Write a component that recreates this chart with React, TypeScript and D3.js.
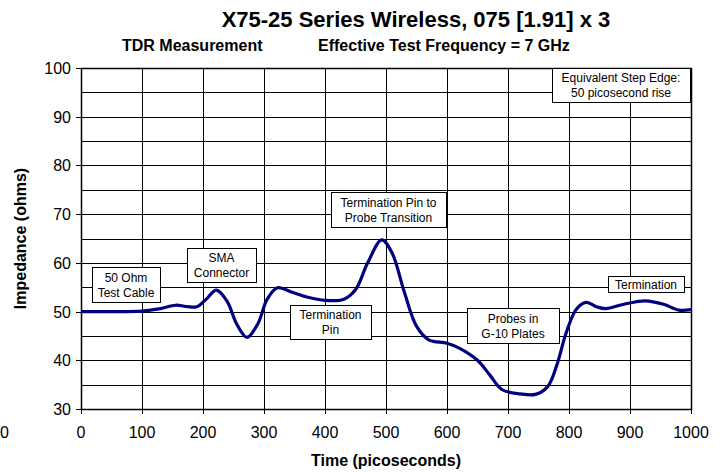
import React from "react";
import * as d3 from "d3";

const title = "X75-25 Series Wireless, 075 [1.91] x 3";
const subtitleLeft = "TDR Measurement";
const subtitleRight = "Effective Test Frequency = 7 GHz";
const xLabel = "Time (picoseconds)";
const yLabel = "Impedance (ohms)";

const xTicks = [0, 100, 200, 300, 400, 500, 600, 700, 800, 900, 1000];
const yTicks = [30, 40, 50, 60, 70, 80, 90, 100];
const yGrid = [35, 40, 45, 50, 55, 60, 65, 70, 75, 80, 85, 90, 95];

const timePs = [0, 50, 100, 130, 155, 175, 190, 205, 222, 240, 255, 272, 290, 305, 322, 345, 370, 400, 430, 450, 470, 493, 510, 530, 550, 570, 600, 620, 650, 670, 690, 720, 745, 765, 780, 795, 812, 828, 845, 860, 890, 925, 955, 980, 1000];
const impedance = [50, 50, 50.1, 50.6, 51.3, 51.0, 51.0, 52.5, 54.4, 52, 47.5, 44.7, 47.5, 52.5, 54.9, 54.0, 53.0, 52.3, 52.5, 54.5, 60, 64.7, 62, 54, 47, 44.2, 43.5, 42.5, 40, 37, 34, 33.1, 33, 34.6, 39, 45.5, 50.5, 51.9, 51.0, 50.6, 51.5, 52.2, 51.5, 50.3, 50.4];

const annotations = [
  { lines: ["50 Ohm", "Test Cable"], x0: 92, y0: 267, x1: 160, y1: 302 },
  { lines: ["SMA", "Connector"], x0: 187, y0: 248, x1: 256, y1: 282 },
  { lines: ["Termination", "Pin"], x0: 290, y0: 305, x1: 371, y1: 339 },
  { lines: ["Termination Pin to", "Probe Transition"], x0: 331, y0: 192, x1: 446, y1: 227 },
  { lines: ["Probes in", "G-10 Plates"], x0: 467, y0: 308, x1: 559, y1: 343 },
  { lines: ["Termination"], x0: 608, y0: 276, x1: 684, y1: 292 },
  { lines: ["Equivalent Step Edge:", "50 picosecond rise"], x0: 552, y0: 68, x1: 690, y1: 102 },
];

export default function App() {
  const W = 724, H = 472;
  const left = 81, right = 691, top = 68, bottom = 409;
  const x = d3.scaleLinear().domain([0, 1000]).range([left, right]);
  const y = d3.scaleLinear().domain([30, 100]).range([bottom, top]);
  const data = timePs.map((t, i) => [t, impedance[i]] as [number, number]);
  const line = d3.line<[number, number]>().x(d => x(d[0])).y(d => y(d[1])).curve(d3.curveCatmullRom.alpha(0.5));
  const font = "Arial, 'Liberation Sans', sans-serif";

  return (
    <svg width={W} height={H} style={{ position: "absolute", left: 0, top: 0, background: "#fff" }} fontFamily={font}>
      <rect x={0} y={0} width={W} height={H} fill="#fff" />
      <text x={416} y={27} textAnchor="middle" fontSize={22} fontWeight="bold">{title}</text>
      <text x={122} y={51} fontSize={16} fontWeight="bold">{subtitleLeft}</text>
      <text x={318} y={51} fontSize={16} fontWeight="bold">{subtitleRight}</text>

      {yGrid.map(v => (
        <line key={"h" + v} x1={left} x2={right} y1={Math.round(y(v)) + 0.5} y2={Math.round(y(v)) + 0.5} stroke="#000" strokeWidth={1} />
      ))}
      {xTicks.slice(1, -1).map(t => (
        <line key={"v" + t} x1={Math.round(x(t)) + 0.5} x2={Math.round(x(t)) + 0.5} y1={top} y2={bottom} stroke="#000" strokeWidth={1} />
      ))}
      <rect x={left + 0.5} y={top + 0.5} width={right - left} height={bottom - top} fill="none" stroke="#000" strokeWidth={1.5} />

      {yTicks.map(v => (
        <g key={"yt" + v}>
          <line x1={left - 5} x2={left} y1={Math.round(y(v)) + 0.5} y2={Math.round(y(v)) + 0.5} stroke="#000" />
          <text x={left - 10} y={y(v) + 6} textAnchor="end" fontSize={16}>{v}</text>
        </g>
      ))}
      {xTicks.map(t => (
        <g key={"xt" + t}>
          <line x1={Math.round(x(t)) + 0.5} x2={Math.round(x(t)) + 0.5} y1={bottom} y2={bottom + 5} stroke="#000" />
          <text x={x(t)} y={438} textAnchor="middle" fontSize={16}>{t}</text>
        </g>
      ))}
      <text x={0} y={438} fontSize={16}>0</text>

      <path d={line(data) || ""} fill="none" stroke="#000080" strokeWidth={3.2} />

      {annotations.map((a, i) => (
        <g key={"a" + i}>
          <rect x={a.x0 + 0.5} y={a.y0 + 0.5} width={a.x1 - a.x0} height={a.y1 - a.y0} fill="#fff" stroke="#000" strokeWidth={1} />
          {a.lines.map((l, j) => (
            <text key={j} x={(a.x0 + a.x1) / 2} y={a.y0 + (a.y1 - a.y0) / 2 + (j - (a.lines.length - 1) / 2) * 15 + 4.5} textAnchor="middle" fontSize={12}>{l}</text>
          ))}
        </g>
      ))}

      <text transform={`translate(26,${(top + bottom) / 2}) rotate(-90)`} textAnchor="middle" fontSize={16} fontWeight="bold">{yLabel}</text>
      <text x={386} y={466} textAnchor="middle" fontSize={16} fontWeight="bold">{xLabel}</text>
    </svg>
  );
}
